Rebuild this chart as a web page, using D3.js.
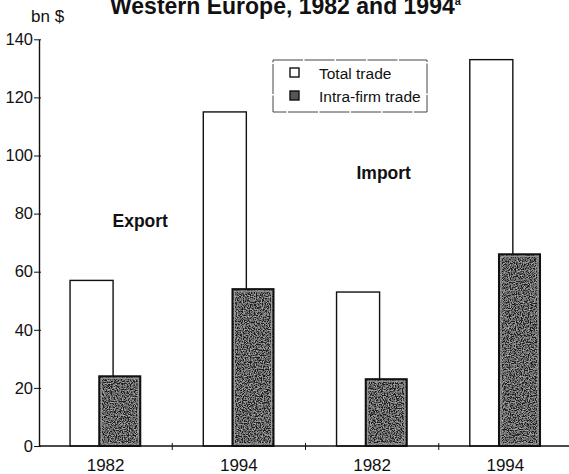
<!DOCTYPE html>
<html>
<head>
<meta charset="utf-8">
<script src="https://cdn.jsdelivr.net/npm/d3@7"></script>
<style>
  html, body { margin: 0; padding: 0; background: #fff; }
  svg { display: block; }
  text { font-family: "Liberation Sans", Arial, sans-serif; fill: #111; }
</style>
</head>
<body>
<svg id="chart" width="569" height="474"></svg>
<script>
// ---- data ----
const groups = ["Export 1982", "Export 1994", "Import 1982", "Import 1994"];
const groupLabels = ["1982", "1994", "1982", "1994"];
const totalTrade = [57, 115, 53, 133];
const intraFirmTrade = [24, 54, 23, 66];
const yTicks = [0, 20, 40, 60, 80, 100, 120, 140];
const seriesNames = ["Total trade", "Intra-firm trade"];

// ---- layout ----
const W = 569, H = 474;
const svg = d3.select("#chart");
const mLeft = 39, mBottom = 446, mTop = 39.3, mRight = 572;

const x = d3.scaleBand().domain(groups).range([mLeft, mRight]).padding(0);
const y = d3.scaleLinear().domain([0, 140]).range([mBottom, mTop]);

// grain filter for dark bars
const defs = svg.append("defs");
const f = defs.append("filter").attr("id", "grain").attr("x", 0).attr("y", 0).attr("width", 1).attr("height", 1);
f.append("feTurbulence").attr("type", "fractalNoise").attr("baseFrequency", 0.85).attr("numOctaves", 2).attr("seed", 5).attr("result", "noise");
f.append("feColorMatrix").attr("in", "noise").attr("type", "matrix")
  .attr("values", "0 0 0 0 0.62  0 0 0 0 0.62  0 0 0 0 0.62  1.8 0 0 0 -0.7").attr("result", "spots");
f.append("feComposite").attr("in", "spots").attr("in2", "SourceGraphic").attr("operator", "in").attr("result", "spotsIn");
f.append("feMerge").selectAll("feMergeNode").data(["SourceGraphic", "spotsIn"]).join("feMergeNode").attr("in", d => d);

// title
svg.append("text").attr("x", 110).attr("y", 13.5)
  .attr("font-size", 23).attr("font-weight", "bold")
  .text("Western Europe, 1982 and 1994")
  .append("tspan").attr("font-size", 11).attr("dy", -9).text("a");

// unit label
svg.append("text").attr("x", 31).attr("y", 22).attr("font-size", 17).text("bn $");

// bars
const bw = x.bandwidth();
const g = svg.append("g");
g.selectAll("rect.total").data(groups).join("rect").attr("class", "total")
  .attr("x", d => x(d) + bw * 0.233)
  .attr("width", bw * 0.323)
  .attr("y", (d, i) => y(totalTrade[i]))
  .attr("height", (d, i) => y(0) - y(totalTrade[i]))
  .attr("fill", "#fff").attr("stroke", "#111").attr("stroke-width", 1.4);

g.selectAll("rect.intra").data(groups).join("rect").attr("class", "intra")
  .attr("x", d => x(d) + bw * 0.452)
  .attr("width", bw * 0.308)
  .attr("y", (d, i) => y(intraFirmTrade[i]))
  .attr("height", (d, i) => y(0) - y(intraFirmTrade[i]))
  .attr("fill", "#1e1e1e").attr("filter", "url(#grain)");
g.selectAll("rect.intraInner").data(groups).join("rect").attr("class", "intraInner")
  .attr("x", d => x(d) + bw * 0.452 + 2)
  .attr("width", bw * 0.308 - 4)
  .attr("y", (d, i) => y(intraFirmTrade[i]) + 2)
  .attr("height", (d, i) => y(0) - y(intraFirmTrade[i]) - 4)
  .attr("fill", "none").attr("stroke", "#9a9a9a").attr("stroke-width", 1.2);
g.selectAll("rect.intraEdge").data(groups).join("rect").attr("class", "intraEdge")
  .attr("x", d => x(d) + bw * 0.452)
  .attr("width", bw * 0.308)
  .attr("y", (d, i) => y(intraFirmTrade[i]))
  .attr("height", (d, i) => y(0) - y(intraFirmTrade[i]))
  .attr("fill", "none").attr("stroke", "#111").attr("stroke-width", 2);

// y axis
const yAxis = svg.append("g").attr("transform", `translate(${mLeft},0)`)
  .call(d3.axisLeft(y).tickValues(yTicks).tickSize(0).tickPadding(6));
yAxis.select(".domain").attr("stroke", "#111").attr("stroke-width", 1.4);
yAxis.selectAll(".tick text").attr("font-size", 16.5)
  .attr("font-family", '"Liberation Sans", Arial, sans-serif').attr("fill", "#111");
yAxis.selectAll(".tick").append("line").attr("x1", -5).attr("x2", 2).attr("stroke", "#111").attr("stroke-width", 1);

// x axis
svg.append("line").attr("x1", mLeft).attr("x2", W).attr("y1", mBottom).attr("y2", mBottom)
  .attr("stroke", "#111").attr("stroke-width", 1.4);
svg.selectAll("line.xtick").data(groups.slice(1)).join("line").attr("class", "xtick")
  .attr("x1", d => x(d)).attr("x2", d => x(d))
  .attr("y1", mBottom - 3).attr("y2", mBottom + 4).attr("stroke", "#111");
svg.selectAll("text.xlab").data(groups).join("text").attr("class", "xlab")
  .attr("x", d => x(d) + bw / 2).attr("y", 471)
  .attr("text-anchor", "middle").attr("font-size", 17)
  .text((d, i) => groupLabels[i]);

// group labels
svg.append("text").attr("x", 112.5).attr("y", 226.5).attr("font-size", 17.5).attr("font-weight", "bold").text("Export");
svg.append("text").attr("x", 356.5).attr("y", 179).attr("font-size", 17.5).attr("font-weight", "bold").text("Import");

// legend
const lg = svg.append("g");
lg.append("rect").attr("x", 273).attr("y", 60).attr("width", 154).attr("height", 52)
  .attr("fill", "#fff").attr("stroke", "#444").attr("stroke-width", 1).attr("stroke-dasharray", "30 1.5");
const ly = [73, 96];
lg.selectAll("rect.sym").data(seriesNames).join("rect").attr("class", "sym")
  .attr("x", 290).attr("y", (d, i) => ly[i] - 5).attr("width", 9).attr("height", 9)
  .attr("fill", (d, i) => i === 0 ? "#fff" : "#555").attr("stroke", "#111").attr("stroke-width", 1.4);
lg.selectAll("text.lt").data(seriesNames).join("text").attr("class", "lt")
  .attr("x", 319).attr("y", (d, i) => ly[i] + 5.5).attr("font-size", 15.5).text(d => d);
</script>
</body>
</html>
